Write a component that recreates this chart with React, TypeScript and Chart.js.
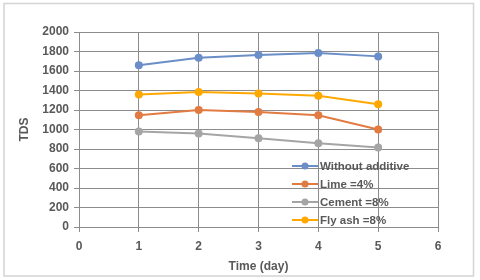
import React, { useEffect, useRef } from "react";
import { Chart, registerables } from "chart.js";

Chart.register(...registerables);

const days = [1, 2, 3, 4, 5];
const withoutAdditive = [1660, 1735, 1765, 1785, 1750];
const lime4 = [1145, 1200, 1180, 1145, 1000];
const cement8 = [980, 960, 910, 860, 815];
const flyAsh8 = [1360, 1385, 1370, 1345, 1260];
const seriesNames = ["Without additive", "Lime =4%", "Cement =8%", "Fly ash =8%"];
const seriesColors = ["#6A8EC8", "#E27B41", "#A5A5A5", "#FFA800"];
const xTicks = [0, 1, 2, 3, 4, 5, 6];
const yTicks = [0, 200, 400, 600, 800, 1000, 1200, 1400, 1600, 1800, 2000];

const FONT = "'Liberation Sans', Arial, sans-serif";
const TEXT = "#595959";

const frameAndLegend = {
  id: "frameAndLegend",
  afterDraw(chart: any) {
    const ctx = chart.ctx;
    ctx.save();
    ctx.strokeStyle = "#D4D4D4";
    ctx.lineWidth = 1.5;
    ctx.strokeRect(4, 3.5, 469.5, 272.5);
    const x0 = 292;
    const rows = [166, 184, 202, 220];
    chart.data.datasets.forEach((ds: any, i: number) => {
      const y = rows[i];
      ctx.strokeStyle = ds.borderColor;
      ctx.lineWidth = 2;
      ctx.beginPath();
      ctx.moveTo(x0, y);
      ctx.lineTo(x0 + 26, y);
      ctx.stroke();
      ctx.fillStyle = ds.borderColor;
      ctx.beginPath();
      ctx.arc(x0 + 13, y, 3.5, 0, Math.PI * 2);
      ctx.fill();
      ctx.fillStyle = TEXT;
      ctx.font = `bold 11.5px ${FONT}`;
      ctx.textBaseline = "middle";
      ctx.textAlign = "left";
      ctx.fillText(ds.label, x0 + 28, y + 1);
    });
    ctx.restore();
  },
};

export default function App() {
  const ref = useRef<HTMLCanvasElement>(null);
  useEffect(() => {
    document.body.style.margin = "0";
    const seriesData = [withoutAdditive, lime4, cement8, flyAsh8];
    const chart = new Chart(ref.current!, {
      type: "line",
      data: {
        datasets: seriesData.map((vals, i) => ({
          label: seriesNames[i],
          data: vals.map((v, j) => ({ x: days[j], y: v })),
          borderColor: seriesColors[i],
          backgroundColor: seriesColors[i],
          borderWidth: 2,
          pointRadius: 4,
          pointBorderWidth: 0,
          tension: 0,
        })),
      },
      options: {
        responsive: false,
        animation: false,
        layout: { padding: { left: 0, top: 32, right: 42, bottom: 6 } },
        plugins: {
          legend: { display: false },
          tooltip: { enabled: false },
        },
        scales: {
          x: {
            type: "linear",
            min: 0,
            max: 6,
            afterBuildTicks: (s: any) => {
              s.ticks = xTicks.map((v) => ({ value: v }));
            },
            afterFit: (s: any) => {
              s.height = 47;
            },
            grid: { color: "#8C8C8C", lineWidth: 1, tickLength: 5, drawTicks: true },
            border: { color: "#8C8C8C" },
            ticks: {
              color: TEXT,
              padding: 7,
              callback: (v: any) => String(v),
              font: { family: FONT, size: 12, weight: "bold" },
            },
            title: {
              display: true,
              text: "Time (day)",
              color: TEXT,
              padding: { top: 2, bottom: 0 },
              font: { family: FONT, size: 12, weight: "bold" },
            },
          },
          y: {
            type: "linear",
            min: 0,
            max: 2000,
            afterBuildTicks: (s: any) => {
              s.ticks = yTicks.map((v) => ({ value: v }));
            },
            afterFit: (s: any) => {
              s.width = 79;
            },
            grid: { color: "#8C8C8C", lineWidth: 1, tickLength: 5 },
            border: { color: "#8C8C8C" },
            ticks: {
              color: TEXT,
              padding: 5,
              callback: (v: any) => String(v),
              font: { family: FONT, size: 12, weight: "bold" },
            },
            title: {
              display: true,
              text: "TDS",
              color: TEXT,
              padding: { top: 17, bottom: 0 },
              font: { family: FONT, size: 12, weight: "bold" },
            },
          },
        },
      },
      plugins: [frameAndLegend],
    });
    return () => chart.destroy();
  }, []);
  return <canvas ref={ref} width={480} height={280} style={{ display: "block" }} />;
}
